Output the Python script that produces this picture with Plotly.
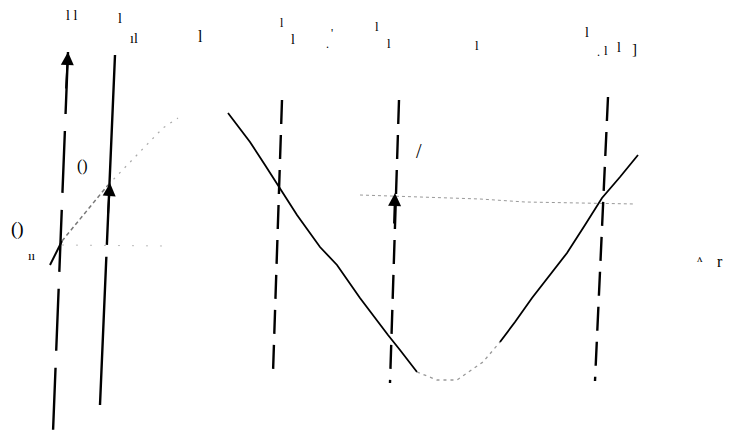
import plotly.graph_objects as go

# ---- data (pixel-like coordinates, y grows downward) ----
# curve pieces
curve_a_x = [50, 62]
curve_a_y = [265, 241]
curve_b_x = [62, 85, 108]
curve_b_y = [241, 213, 185]
curve_c_x = [108, 130, 147, 163, 178]
curve_c_y = [185, 162, 145, 128, 118]
curve_d_x = [228, 250, 265, 280, 297, 320, 337, 360, 375, 388, 400, 417]
curve_d_y = [113, 142, 165, 188, 215, 247, 265, 298, 318, 335, 350, 372]
curve_e_x = [417, 437, 457, 483, 500]
curve_e_y = [372, 380, 380, 362, 342]
curve_f_x = [500, 515, 532, 550, 567, 585, 602, 620, 638]
curve_f_y = [342, 322, 298, 275, 253, 225, 198, 177, 155]

# vertical lines: (x_top, y_top, x_bottom, y_bottom)
solid_v_xtop = [68, 115]
solid_v_ytop = [52, 55]
solid_v_xbot = [53, 100]
solid_v_ybot = [432, 405]
solid_v_dash = ["62px,17px", "190px,12px"]

dashed_v_xtop = [282, 399, 608]
dashed_v_ytop = [100, 100, 97]
dashed_v_xbot = [273, 390, 595]
dashed_v_ybot = [373, 383, 381]

# horizontal dotted guides
h1_x = [62, 165]
h1_y = [245, 246]
h2_x = [360, 480, 525, 635]
h2_y = [195, 199, 202, 204]

# text fragments (as they appear in the scan)
label_text = ["l l", "l", "ıl", "l", "l", "l", ".", "'", "l", "l", "l",
              "l", ".", "l", "l", "]", "()", "ıı", "()", "/", "ʌ", "r"]
label_x = [71, 120, 134, 200, 282, 293, 327, 332, 377, 389, 477,
           587, 598, 606, 619, 634, 17, 32, 82, 419, 700, 720]
label_y = [15, 18, 38, 36, 23, 39, 44, 33, 26, 43, 45,
           32, 52, 50, 47, 49, 229, 255, 166, 151, 258, 261]
label_size = [14, 14, 14, 16, 12, 14, 12, 12, 13, 13, 13,
              14, 12, 13, 14, 15, 19, 13, 16, 20, 11, 16]

fig = go.Figure()

def add_line(x, y, color, width, dash):
    fig.add_trace(go.Scatter(x=x, y=y, mode="lines",
                             line=dict(color=color, width=width, dash=dash),
                             hoverinfo="skip", showlegend=False))

add_line(curve_a_x, curve_a_y, "black", 2, "solid")
add_line(curve_b_x, curve_b_y, "#777777", 1.5, "4px,3px")
add_line(curve_c_x, curve_c_y, "#aaaaaa", 1.2, "2px,6px")
add_line(curve_d_x, curve_d_y, "black", 1.8, "solid")
add_line(curve_e_x, curve_e_y, "#999999", 1.3, "3px,4px")
add_line(curve_f_x, curve_f_y, "black", 1.8, "solid")

add_line(h1_x, h1_y, "#bbbbbb", 1, "2px,12px")
add_line(h2_x, h2_y, "#999999", 1, "3px,3px")

for i in range(len(solid_v_xtop)):
    add_line([solid_v_xtop[i], solid_v_xbot[i]], [solid_v_ytop[i], solid_v_ybot[i]],
             "black", 2.4, solid_v_dash[i])

for i in range(len(dashed_v_xtop)):
    add_line([dashed_v_xtop[i], dashed_v_xbot[i]], [dashed_v_ytop[i], dashed_v_ybot[i]],
             "black", 2.4, "24px,11px")

# arrowheads
arrows = [(68, 52, 66, 90), (110, 183, 108, 215), (395, 193, 394, 225)]
for (x, y, ax, ay) in arrows:
    fig.add_annotation(x=x, y=y, ax=ax, ay=ay, xref="x", yref="y", axref="x", ayref="y",
                       showarrow=True, arrowhead=2, arrowsize=1.3, arrowwidth=2,
                       arrowcolor="black", text="")

for t, x, y, s in zip(label_text, label_x, label_y, label_size):
    fig.add_annotation(x=x, y=y, xref="x", yref="y", text=t, showarrow=False,
                       font=dict(family="Liberation Serif", size=s, color="black"))

# page body has an 8px margin: size the figure so data units map to window pixels
fig.update_layout(width=741, height=425, margin=dict(l=0, r=0, t=0, b=0),
                  paper_bgcolor="white", plot_bgcolor="white", showlegend=False)
fig.update_xaxes(range=[8, 749], visible=False, fixedrange=True)
fig.update_yaxes(range=[433, 8], visible=False, fixedrange=True)

fig.write_html("out.html")
